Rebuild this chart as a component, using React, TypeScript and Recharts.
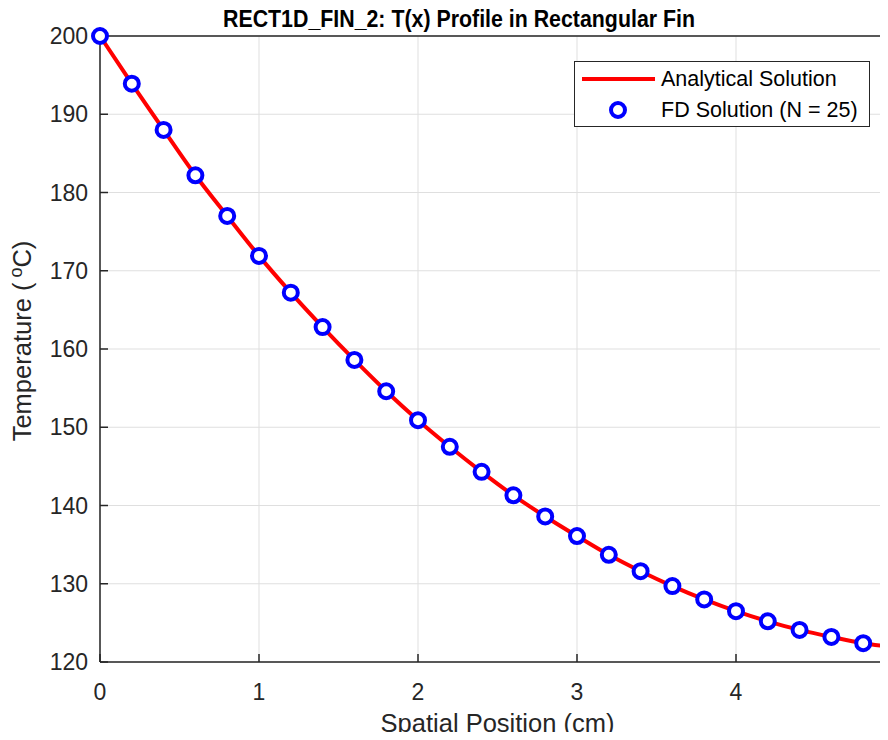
import { CartesianGrid, Legend, Line, LineChart, ReferenceLine, XAxis, YAxis } from 'recharts';

// x positions of the FD nodes (cm), N = 25 intervals
const positions = [
  0, 0.2, 0.4, 0.6, 0.8, 1.0, 1.2, 1.4, 1.6, 1.8, 2.0, 2.2, 2.4,
  2.6, 2.8, 3.0, 3.2, 3.4, 3.6, 3.8, 4.0, 4.2, 4.4, 4.6, 4.8, 5.0,
];

const analytical = [
  200.0, 193.9, 188.0, 182.2, 177.0, 171.9, 167.2, 162.8, 158.6, 154.6, 150.9, 147.5, 144.3,
  141.3, 138.6, 136.1, 133.7, 131.6, 129.7, 128.0, 126.5, 125.2, 124.1, 123.2, 122.4, 121.9,
];

const fdSolution = [
  200.0, 193.9, 188.0, 182.2, 177.0, 171.9, 167.2, 162.8, 158.6, 154.6, 150.9, 147.5, 144.3,
  141.3, 138.6, 136.1, 133.7, 131.6, 129.7, 128.0, 126.5, 125.2, 124.1, 123.2, 122.4, 121.9,
];

const xTicks = [0, 1, 2, 3, 4, 5];
const yTicks = [120, 130, 140, 150, 160, 170, 180, 190, 200];

const data = positions.map((x, i) => ({ x, analytical: analytical[i], fd: fdSolution[i] }));

const FONT = '"Liberation Sans", Arial, Helvetica, sans-serif';
const AXIS = '#262626';

function renderLegend() {
  return (
    <svg width={296} height={66} style={{ display: 'block' }}>
      <rect x={0.5} y={0.5} width={295} height={65} fill="#fff" stroke={AXIS} strokeWidth={1} />
      <line x1={8} y1={18} x2={81} y2={18} stroke="#ff0000" strokeWidth={4} />
      <text x={87} y={25} fontFamily={FONT} fontSize={21.5} fill="#000">Analytical Solution</text>
      <circle cx={44} cy={49} r={7} fill="#fff" stroke="#0000ff" strokeWidth={4} />
      <text x={87} y={56} fontFamily={FONT} fontSize={21.5} fill="#000">FD Solution (N = 25)</text>
    </svg>
  );
}

export default function App() {
  return (
    <div style={{ margin: -8, width: 888, height: 740, overflow: 'hidden', position: 'relative', background: '#fff' }}>
      <LineChart width={920} height={740} data={data} margin={{ top: 36, right: 25, bottom: 0, left: 0 }}>
        <text
          x={459}
          y={27}
          textAnchor="middle"
          fontFamily={FONT}
          fontSize={23}
          fontWeight="bold"
          fill="#000"
          textLength={472}
          lengthAdjust="spacingAndGlyphs"
        >
          RECT1D_FIN_2: T(x) Profile in Rectangular Fin
        </text>
        <CartesianGrid stroke="#dfdfdf" strokeWidth={1} />
        <XAxis
          type="number"
          dataKey="x"
          domain={[0, 5]}
          ticks={xTicks}
          height={78}
          stroke={AXIS}
          strokeWidth={1.5}
          tickSize={-8}
          tickMargin={30}
          tick={{ fill: AXIS, fontSize: 23, fontFamily: FONT }}
          label={{
            value: 'Spatial Position (cm)',
            position: 'insideBottom',
            offset: 8,
            fill: AXIS,
            fontSize: 25.5,
            fontFamily: FONT,
          }}
        />
        <YAxis
          type="number"
          domain={[120, 200]}
          ticks={yTicks}
          width={100}
          stroke={AXIS}
          strokeWidth={1.5}
          tickSize={-8}
          tickMargin={20}
          tick={{ fill: AXIS, fontSize: 23, fontFamily: FONT }}
          label={{
            content: () => (
              <text
                x={31}
                y={341}
                transform="rotate(-90 31 341)"
                textAnchor="middle"
                fontFamily={FONT}
                fontSize={25.5}
                fill={AXIS}
              >
                Temperature (
                <tspan fontSize={18} dx={5} dy={-9}>o</tspan>
                <tspan dy={9}>C)</tspan>
              </text>
            ),
          }}
        />
        <ReferenceLine y={200} stroke={AXIS} strokeWidth={1.5} />
        <ReferenceLine x={5} stroke={AXIS} strokeWidth={1.5} />
        <Legend
          layout="horizontal"
          verticalAlign="middle"
          align="center"
          content={renderLegend}
          wrapperStyle={{ position: 'absolute', left: 574, top: 61, width: 296, height: 66 }}
        />
        <Line
          type="monotone"
          dataKey="analytical"
          name="Analytical Solution"
          stroke="#ff0000"
          strokeWidth={4}
          dot={false}
          activeDot={false}
          isAnimationActive={false}
        />
        <Line
          type="monotone"
          dataKey="fd"
          name="FD Solution (N = 25)"
          stroke="none"
          dot={{ r: 7, fill: '#fff', stroke: '#0000ff', strokeWidth: 4 }}
          activeDot={false}
          isAnimationActive={false}
        />
      </LineChart>
    </div>
  );
}
